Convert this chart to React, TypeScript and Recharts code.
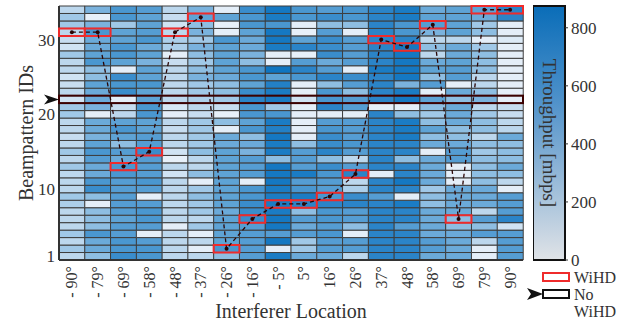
import { ComposedChart, BarChart, Bar, Line, XAxis, YAxis, Cell, ReferenceArea } from 'recharts';

// interferer angles (x categories)
const angles = ['- 90°', '- 79°', '- 69°', '- 58°', '- 48°', '- 37°', '- 26°', '- 16°', '- 5°', '5°', '16°', '26°', '37°', '48°', '58°', '69°', '79°', '90°'];

// throughput [mbps] per beampattern ID 1..34, one array per interferer angle
const m90 = [255, 340, 255, 340, 255, 255, 255, 300, 340, 255, 255, 255, 340, 255, 340, 255, 210, 255, 255, 340, 340, 170, 255, 210, 170, 255, 255, 340, 170, 210, 255, 340, 340, 255];
const m79 = [380, 470, 470, 595, 380, 380, 380, 40, 380, 640, 595, 470, 470, 550, 595, 510, 425, 470, 470, 40, 425, 470, 470, 510, 380, 380, 595, 510, 470, 470, 595, 425, 20, 425];
const m69 = [640, 595, 595, 550, 550, 510, 550, 550, 550, 550, 550, 595, 595, 470, 550, 380, 510, 595, 510, 255, 210, 40, 640, 595, 640, 40, 510, 595, 595, 510, 510, 340, 595, 595];
const m58 = [595, 595, 550, 40, 550, 595, 595, 550, 40, 550, 595, 550, 550, 550, 640, 550, 550, 510, 510, 595, 595, 510, 510, 595, 510, 510, 425, 510, 470, 595, 550, 510, 510, 550];
const m48 = [255, 255, 255, 255, 40, 255, 255, 255, 255, 255, 255, 170, 255, 20, 170, 255, 255, 210, 255, 40, 130, 255, 255, 255, 255, 255, 210, 40, 300, 300, 255, 170, 210, 255];
const m37 = [255, 40, 255, 40, 340, 255, 340, 340, 380, 340, 40, 380, 255, 255, 380, 340, 340, 340, 340, 210, 255, 300, 340, 340, 425, 380, 340, 380, 425, 340, 425, 380, 510, 425];
const m26 = [380, 595, 510, 510, 510, 510, 470, 510, 510, 510, 510, 510, 510, 510, 510, 470, 470, 40, 380, 20, 210, 340, 380, 380, 470, 510, 510, 510, 510, 595, 40, 20, 510, 40];
const m16 = [550, 550, 550, 550, 550, 640, 640, 640, 595, 595, 40, 550, 550, 550, 425, 470, 380, 595, 510, 595, 595, 680, 640, 510, 595, 595, 380, 425, 470, 470, 510, 595, 595, 640];
const m5 = [765, 40, 810, 550, 810, 810, 765, 765, 765, 765, 810, 810, 810, 380, 765, 765, 810, 720, 765, 595, 340, 765, 765, 720, 510, 850, 40, 40, 765, 810, 810, 595, 765, 810];
const p5 = [470, 340, 340, 550, 470, 550, 380, 680, 765, 595, 550, 765, 550, 550, 550, 380, 40, 40, 40, 40, 40, 170, 40, 40, 595, 680, 550, 20, 680, 510, 20, 40, 595, 595];
const p16 = [470, 550, 550, 595, 550, 595, 595, 680, 595, 550, 550, 595, 640, 380, 680, 640, 640, 595, 550, 40, 680, 595, 595, 380, 680, 550, 470, 640, 640, 640, 550, 380, 640, 550];
const p26 = [255, 550, 550, 40, 380, 550, 550, 680, 640, 300, 255, 680, 550, 255, 550, 595, 550, 550, 550, 40, 550, 550, 380, 550, 640, 40, 550, 550, 550, 550, 40, 380, 595, 595];
const p37 = [680, 680, 680, 680, 680, 680, 680, 680, 550, 680, 680, 40, 680, 680, 680, 680, 680, 680, 680, 680, 40, 680, 680, 680, 680, 765, 680, 680, 680, 680, 680, 680, 680, 680];
const p48 = [680, 680, 680, 680, 550, 680, 680, 765, 40, 680, 810, 680, 680, 380, 680, 680, 765, 765, 765, 380, 40, 810, 765, 425, 810, 810, 810, 810, 810, 680, 595, 595, 765, 765];
const p58 = [470, 550, 550, 470, 470, 470, 470, 380, 380, 340, 470, 470, 470, 470, 40, 470, 380, 510, 380, 340, 380, 510, 40, 550, 380, 510, 470, 255, 380, 255, 425, 550, 510, 470];
const p69 = [470, 470, 470, 470, 380, 380, 470, 470, 470, 470, 40, 40, 40, 550, 550, 470, 380, 380, 470, 470, 470, 380, 470, 40, 550, 550, 510, 470, 470, 255, 510, 510, 510, 510];
const p79 = [40, 40, 255, 550, 380, 550, 255, 470, 470, 470, 380, 380, 380, 380, 340, 380, 255, 380, 380, 340, 255, 425, 380, 255, 255, 380, 380, 380, 340, 40, 380, 340, 470, 510];
const p90 = [550, 550, 550, 550, 170, 680, 550, 550, 550, 40, 255, 380, 470, 380, 380, 380, 470, 255, 255, 210, 210, 40, 40, 40, 40, 40, 40, 40, 40, 85, 40, 40, 680, 680];

const throughput = [m90, m79, m69, m58, m48, m37, m26, m16, m5, p5, p16, p26, p37, p48, p58, p69, p79, p90];

// beam chosen by WiHD for each interferer angle, and the fixed beam without WiHD
const wihdBeam = [31, 31, 13, 15, 31, 33, 2, 6, 8, 8, 9, 12, 30, 29, 32, 6, 34, 34];
const noWihdBeam = 22;

const beamCount = 34;
const beamTicks = [1, 10, 20, 30];
const colorbarMax = 875;
const colorbarTicks = [0, 200, 400, 600, 800];

const stops: [number, string][] = [
  [0, '#eaf2fa'], [170, '#d0e3f3'], [255, '#bcd7ed'], [340, '#a0c8e7'], [425, '#7ab2dd'],
  [510, '#5ea3d5'], [595, '#4a97d0'], [680, '#2b84c8'], [765, '#1b7cc4'], [850, '#0f75c1'],
];

const hex = (c: string) => [1, 3, 5].map(i => parseInt(c.slice(i, i + 2), 16));

function heat(v: number) {
  for (let i = 0; i < stops.length - 1; i++) {
    const [v0, c0] = stops[i];
    const [v1, c1] = stops[i + 1];
    if (v <= v1 || i === stops.length - 2) {
      const t = Math.max(0, Math.min(1, (v - v0) / (v1 - v0)));
      const a = hex(c0), b = hex(c1);
      return `rgb(${a.map((x, k) => Math.round(x + (b[k] - x) * t)).join(',')})`;
    }
  }
  return stops[0][1];
}

const beams = Array.from({ length: beamCount }, (_, i) => i + 1);

const chartData = angles.map((angle, c) => {
  const row: Record<string, string | number> = { angle, pick: wihdBeam[c] - 0.5 };
  beams.forEach(b => { row[`b${b}`] = 1; });
  return row;
});

const ink = '#333';
const margin = { top: 6, right: 7, bottom: 0, left: 0 };

const AngleTick = ({ x, y, payload }: any) => (
  <text x={x} y={y} transform={`rotate(-90 ${x} ${y})`} textAnchor="end" dominantBaseline="central" fontSize={16} fill={ink}>
    {payload.value}
  </text>
);

const NoWihdRow = ({ x, y, width, height }: any) => {
  const cy = y + height / 2;
  return (
    <g>
      <rect x={x} y={y} width={width} height={height} fill="none" stroke="#3b0000" strokeWidth={2} />
      <polygon points={`${x - 15},${cy - 5} ${x},${cy} ${x - 15},${cy + 5} ${x - 11},${cy}`} fill="#111" />
    </g>
  );
};

export default function App() {
  return (
    <div style={{ position: 'absolute', left: 0, top: 0, width: 634, height: 324, background: '#fff', fontFamily: "'Liberation Serif', 'DejaVu Serif', serif" }}>
      {/* heatmap cells and axes */}
      <div style={{ position: 'absolute', left: 0, top: 0 }}>
        <ComposedChart width={530} height={324} data={chartData} margin={margin} barCategoryGap={0} barGap={0}>
          <XAxis
            dataKey="angle"
            type="category"
            scale="band"
            height={64}
            interval={0}
            tickLine={false}
            tickSize={4}
            tickMargin={2}
            axisLine={{ stroke: ink, strokeWidth: 2 }}
            tick={<AngleTick />}
            label={{ value: 'Interferer Location', position: 'insideBottom', offset: 6, fontSize: 20, fill: ink }}
          />
          <YAxis
            type="number"
            domain={[0, beamCount]}
            ticks={beamTicks.map(t => t - 0.5)}
            tickFormatter={(v: number) => String(v + 0.5)}
            interval={0}
            width={59}
            tickLine={false}
            tickSize={2}
            tickMargin={2}
            axisLine={{ stroke: ink, strokeWidth: 2 }}
            tick={{ fontSize: 17, fill: ink }}
            label={{ value: 'Beampattern IDs', angle: -90, position: 'insideLeft', offset: 26, fontSize: 20, fill: ink, style: { textAnchor: 'middle' } }}
          />
          {beams.map(b => (
            <Bar key={b} dataKey={`b${b}`} stackId="grid" isAnimationActive={false}>
              {angles.map((a, c) => (
                <Cell key={a} fill={heat(throughput[c][b - 1])} stroke="#3d3d3d" strokeWidth={1} />
              ))}
            </Bar>
          ))}
        </ComposedChart>
      </div>
      {/* same axes again, on top: beam markers and the WiHD path */}
      <div style={{ position: 'absolute', left: 0, top: 0 }}>
        <ComposedChart width={530} height={324} data={chartData} margin={margin}>
          <XAxis dataKey="angle" type="category" scale="band" height={64} tick={false} tickLine={false} axisLine={false} />
          <YAxis type="number" domain={[0, beamCount]} width={59} tick={false} tickLine={false} axisLine={false} />
          <ReferenceArea y1={noWihdBeam - 1} y2={noWihdBeam} ifOverflow="visible" shape={<NoWihdRow />} />
          {angles.map((a, c) => (
            <ReferenceArea key={a} x1={a} x2={a} y1={wihdBeam[c] - 1} y2={wihdBeam[c]} ifOverflow="visible" fill="none" fillOpacity={0} stroke="#ef2b2b" strokeWidth={2} strokeOpacity={1} />
          ))}
          <Line
            dataKey="pick"
            stroke="#2a0505"
            strokeWidth={1.3}
            strokeDasharray="4 3"
            dot={{ r: 2, fill: '#2a0505', stroke: 'none' }}
            isAnimationActive={false}
          />
        </ComposedChart>
      </div>
      <div style={{ position: 'absolute', left: 533, top: 0 }}>
        <BarChart width={101} height={324} data={[{ name: 'scale', max: colorbarMax }]} margin={{ top: 6, right: 0, bottom: 64, left: 0 }} barCategoryGap={0}>
          <defs>
            <linearGradient id="tpGrad" x1="0" y1="0" x2="0" y2="1">
              <stop offset="0%" stopColor="#0a6db8" />
              <stop offset="35%" stopColor="#4a8fc9" />
              <stop offset="65%" stopColor="#8fb5d6" />
              <stop offset="100%" stopColor="#e0e3e7" />
            </linearGradient>
          </defs>
          <XAxis dataKey="name" hide />
          <YAxis
            orientation="right"
            width={69}
            domain={[0, colorbarMax]}
            ticks={colorbarTicks}
            interval={0}
            axisLine={false}
            tickLine={{ stroke: ink }}
            tickSize={3}
            tickMargin={3}
            tick={{ fontSize: 17, fill: ink, textAnchor: 'start' }}
          />
          <Bar dataKey="max" fill="url(#tpGrad)" stroke="#111" strokeWidth={2} isAnimationActive={false} />
        </BarChart>
      </div>
      <svg width={634} height={324} style={{ position: 'absolute', left: 0, top: 0, pointerEvents: 'none' }}>
        <text x={549} y={133} transform="rotate(90 549 133)" textAnchor="middle" dominantBaseline="central" fontSize={19} fill={ink}>
          Throughput [mbps]
        </text>
        <rect x={543} y={273} width={26} height={8} fill="none" stroke="#ef2b2b" strokeWidth={2} />
        <text x={574} y={283} fontSize={16} fill={ink}>WiHD</text>
        <polygon points="527,288 543,294 527,300 531,294" fill="#111" />
        <rect x={543} y={290} width={26} height={8} fill="none" stroke="#111" strokeWidth={2} />
        <text x={574} y={300} fontSize={16} fill={ink}>No</text>
        <text x={574} y={317} fontSize={16} fill={ink}>WiHD</text>
      </svg>
    </div>
  );
}
